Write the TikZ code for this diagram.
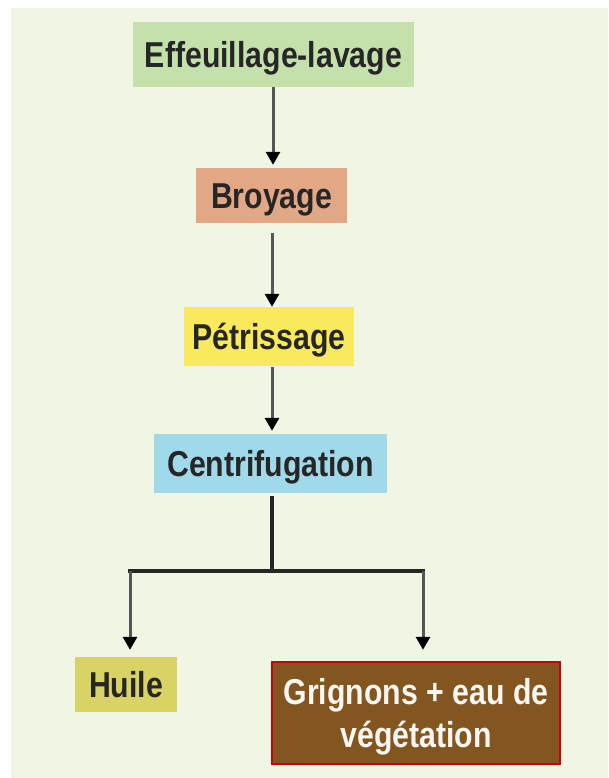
\documentclass[tikz,border=0pt]{standalone}
\usepackage{fontspec}
\setmainfont[FakeStretch=0.84]{Liberation Sans}
\usetikzlibrary{arrows.meta}
\definecolor{bgc}{HTML}{F1F5E4}
\definecolor{cE}{HTML}{C4E1AB}
\definecolor{cB}{HTML}{E2A784}
\definecolor{cP}{HTML}{F9E95D}
\definecolor{cC}{HTML}{9FD9EA}
\definecolor{cH}{HTML}{D9D264}
\definecolor{cG}{HTML}{83561F}
\definecolor{cGb}{HTML}{C8000A}
\definecolor{txt}{HTML}{262626}
\definecolor{lin}{HTML}{555555}
\tikzset{
  stepbox/.style={rectangle, inner sep=0pt, text height=26pt, text depth=0pt,
    font=\fontsize{36pt}{43pt}\selectfont\bfseries, text=txt},
  arr/.style={draw=lin, line width=3pt, -{Triangle[width=14pt,length=13pt,color=black]}},
  stem/.style={draw=txt, line width=3.5pt},
  bar/.style={draw=txt, line width=4.5pt, line cap=rect},
}
\begin{document}
\begin{tikzpicture}[x=1pt,y=-1pt]
\useasboundingbox (0,0) rectangle (608,778);
\fill[white] (0,0) rectangle (608,778);
\fill[bgc] (11,8) rectangle (608,778);

\node[stepbox, fill=cE, minimum width=281pt, minimum height=65pt] (e) at (273.5,54.5) {Effeuillage-lavage};
\node[stepbox, fill=cB, minimum width=151pt, minimum height=55pt] (b) at (271.5,195.5) {Broyage};
\node[stepbox, fill=cP, minimum width=170pt, minimum height=59pt] (p) at (269,336.5) {Pétrissage};
\node[stepbox, fill=cC, minimum width=233pt, minimum height=59pt] (c) at (270.5,463.5) {Centrifugation};
\node[stepbox, fill=cH, minimum width=102pt, minimum height=55pt] (h) at (126,684.5) {Huile};
\node[stepbox, fill=cG, draw=cGb, line width=2.5pt, minimum width=288pt, minimum height=102pt,
      align=center, text height=69pt, text depth=0pt, text=white!95!cG] (g) at (416,713) {Grignons + eau de\\végétation};

\coordinate (ex) at (273,87);
\coordinate (bx) at (272,223);
\coordinate (px) at (272,366);
\coordinate (fork) at (272,571);
\coordinate (fl) at (130,571);
\coordinate (fr) at (423,571);

\draw[arr, shorten >=3pt] (ex) -- (ex |- b.north);
\draw[arr, shorten <=10pt] (bx) -- (bx |- p.north);
\draw[arr, shorten <=1pt, shorten >=3pt] (px) -- (px |- c.north);
\draw[stem, shorten <=3pt] (c.south -| fork) -- (fork);
\draw[bar] (fl) -- (fr);
\draw[arr, shorten >=7pt] (fl) -- (fl |- h.north);
\draw[arr, shorten >=11pt] (fr) -- (fr |- g.north);
\end{tikzpicture}
\end{document}
